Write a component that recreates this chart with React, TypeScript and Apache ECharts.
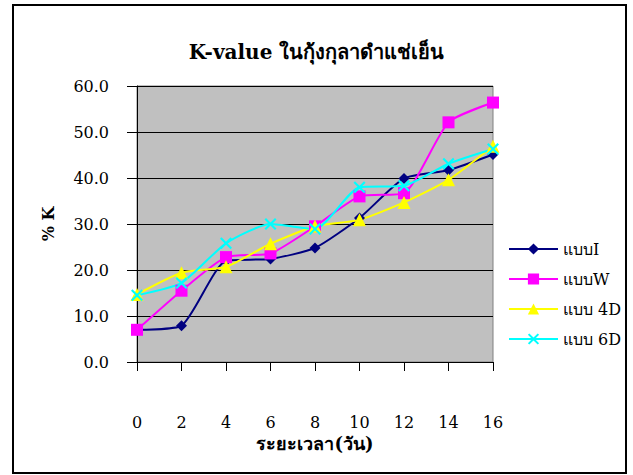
import React, { useEffect, useRef } from "react";
import * as echarts from "echarts";

const days = ["0", "2", "4", "6", "8", "10", "12", "14", "16"];
const seriesNames = ["แบบI", "แบบW", "แบบ 4D", "แบบ 6D"];
const typeI = [7.0, 7.9, 22.0, 22.4, 24.8, 31.3, 39.9, 41.7, 45.1];
const typeW = [7.0, 15.5, 22.8, 23.6, 29.5, 36.0, 36.7, 52.1, 56.4];
const type4D = [14.7, 19.4, 20.7, 25.7, 29.5, 30.9, 34.7, 39.6, 46.9];
const type6D = [14.5, 17.2, 25.8, 30.0, 28.9, 38.0, 38.3, 43.1, 46.3];
const yTicks = [0, 10, 20, 30, 40, 50, 60];

const FONT = "'DejaVu Serif', 'Liberation Serif', serif";
const crossPath =
  "path://M0,1.5L1.5,0L6,4.5L10.5,0L12,1.5L7.5,6L12,10.5L10.5,12L6,7.5L1.5,12L0,10.5L4.5,6Z";

export default function App() {
  const ref = useRef<HTMLDivElement>(null);
  useEffect(() => {
    if (!ref.current) return;
    const chart = echarts.init(ref.current, null, { renderer: "svg" });
    const mk = (
      name: string,
      data: number[],
      color: string,
      symbol: string,
      size: number
    ) => ({
      name,
      type: "line",
      data,
      smooth: 0.2,
      symbol,
      symbolSize: size,
      showSymbol: true,
      lineStyle: { color, width: 2 },
      itemStyle: { color },
    });
    const border = { stroke: "#000", lineWidth: 2 };
    chart.setOption({
      animation: false,
      backgroundColor: "#ffffff",
      title: {
        text: "K-value ในกุ้งกุลาดำแช่เย็น",
        left: "center",
        top: 37,
        textStyle: { fontFamily: FONT, fontSize: 20, fontWeight: "bold", color: "#000" },
      },
      legend: {
        orient: "vertical",
        left: 503,
        top: 236,
        itemWidth: 49,
        itemHeight: 14,
        itemGap: 14,
        data: seriesNames,
        textStyle: { fontFamily: FONT, fontSize: 16, color: "#000" },
      },
      grid: {
        left: 137,
        right: 140,
        top: 86,
        bottom: 113,
        show: true,
        backgroundColor: "#c0c0c0",
        borderColor: "#808080",
        borderWidth: 1,
      },
      xAxis: {
        type: "category",
        data: days,
        boundaryGap: false,
        name: "ระยะเวลา(วัน)",
        nameLocation: "middle",
        nameGap: 67,
        nameTextStyle: { fontFamily: FONT, fontSize: 18, fontWeight: "bold", color: "#000" },
        axisLine: { lineStyle: { color: "#000", width: 1 } },
        axisTick: { show: true, length: 9, lineStyle: { color: "#000" } },
        axisLabel: { margin: 52, fontFamily: FONT, fontSize: 16, color: "#000" },
        splitLine: { show: false },
      },
      yAxis: {
        type: "value",
        min: yTicks[0],
        max: yTicks[yTicks.length - 1],
        interval: 10,
        name: "% K",
        nameLocation: "middle",
        nameGap: 81,
        nameRotate: 90,
        nameTextStyle: { fontFamily: FONT, fontSize: 16, fontWeight: "bold", color: "#000" },
        axisLine: { show: true, lineStyle: { color: "#000", width: 1 } },
        axisTick: { show: true, length: 10, lineStyle: { color: "#000" } },
        axisLabel: {
          margin: 28,
          fontFamily: FONT,
          fontSize: 16,
          color: "#000",
          formatter: (v: number) => v.toFixed(1),
        },
        splitLine: { show: true, lineStyle: { color: "#000", width: 1 } },
      },
      graphic: [
        { type: "line", shape: { x1: 12, y1: 5, x2: 627, y2: 5 }, style: border, silent: true, z: 100 },
        { type: "line", shape: { x1: 13, y1: 5, x2: 13, y2: 473 }, style: border, silent: true, z: 100 },
        { type: "line", shape: { x1: 626, y1: 5, x2: 626, y2: 473 }, style: border, silent: true, z: 100 },
        { type: "line", shape: { x1: 12, y1: 473, x2: 627, y2: 473 }, style: border, silent: true, z: 100 },
      ],
      series: [
        mk(seriesNames[0], typeI, "#000080", "diamond", 11),
        mk(seriesNames[1], typeW, "#ff00ff", "rect", 12),
        mk(seriesNames[2], type4D, "#ffff00", "triangle", 13),
        mk(seriesNames[3], type6D, "#00ffff", crossPath, 12),
      ],
    });
    return () => chart.dispose();
  }, []);
  return (
    <div
      ref={ref}
      style={{ position: "fixed", left: 0, top: 0, width: 633, height: 475 }}
    />
  );
}
